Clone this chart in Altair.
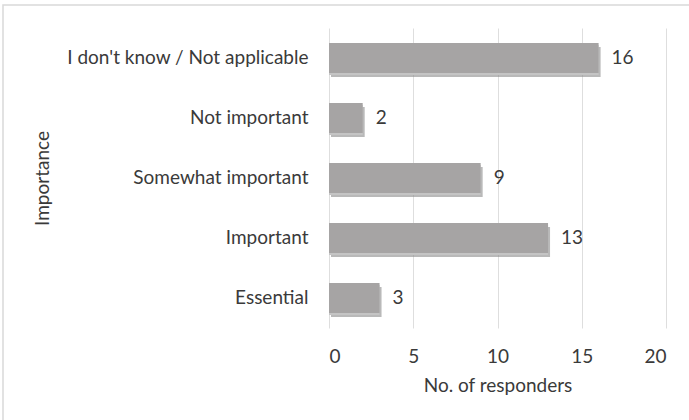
import altair as alt
import pandas as pd

categories = ["I don't know / Not applicable", "Not important", "Somewhat important", "Important", "Essential"]
values = [16, 2, 9, 13, 3]
x_ticks = [0, 5, 10, 15, 20]

df = pd.DataFrame({"importance": categories, "responders": values})

FONT = "Lato"
TXT = "#3a3a3a"
FS = 19

y_enc = alt.Y("importance:N", sort=categories,
              scale=alt.Scale(paddingInner=0.5, paddingOuter=0.25),
              axis=alt.Axis(title="Importance", labelFontSize=FS, labelFont=FONT, labelColor=TXT,
                            labelPadding=21, ticks=False, domain=False, grid=False,
                            titleFontSize=FS, titleFont=FONT, titleColor=TXT, titleFontWeight="normal",
                            titleX=-287, titleY=150, titleAngle=270, titleAlign="center",
                            titleBaseline="middle", labelLimit=400))
x_enc = alt.X("responders:Q", scale=alt.Scale(domain=[0, 20]),
              axis=alt.Axis(values=x_ticks, title="No. of responders", labelFontSize=FS, labelFont=FONT,
                            labelColor=TXT, labelPadding=19, ticks=False, domain=False,
                            grid=True, gridColor="#dedede", gridWidth=1,
                            titleFontSize=FS, titleFont=FONT, titleColor=TXT, titleFontWeight="normal",
                            titlePadding=10))

base = alt.Chart(df)

shadow = base.mark_bar(color="#8a8a8a", opacity=0.6, xOffset=2, yOffset=4).encode(x=x_enc, y=y_enc)
highlight = base.mark_bar(color="#c4c4c4", yOffset=2).encode(x=x_enc, y=y_enc)
bars = base.mark_bar(color="#a6a4a4").encode(x=x_enc, y=y_enc)
labels = base.mark_text(align="left", dx=13, fontSize=FS, font=FONT, color=TXT).encode(
    x=x_enc, y=y_enc, text="responders:Q")

border = alt.Chart(pd.DataFrame({"a": [0]})).mark_rect(
    fill=None, stroke="#d9d9d9", strokeWidth=1.5, clip=False).encode(
    x=alt.value(-326), x2=alt.value(370), y=alt.value(-23), y2=alt.value(400))

chart = alt.layer(border, shadow, highlight, bars, labels).properties(
    width=337, height=300,
    autosize=alt.AutoSizeParams(type="none"),
    padding={"left": 329, "top": 28, "right": 23, "bottom": 92},
    background="white",
).configure_view(stroke=None)

chart.save("out.html", embed_options={"renderer": "svg", "actions": False})
